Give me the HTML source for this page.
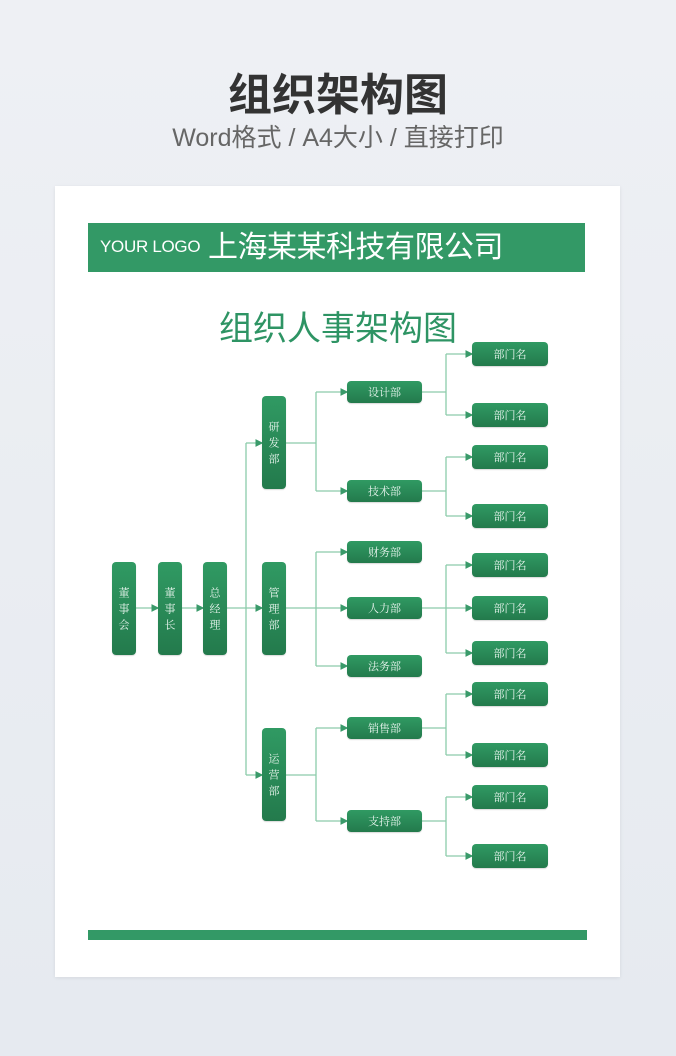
<!DOCTYPE html>
<html><head><meta charset="utf-8"><style>
*{margin:0;padding:0;box-sizing:border-box}
body{width:676px;height:1056px;background:linear-gradient(#eef0f4,#e6eaf0);position:relative;overflow:hidden;font-family:"Liberation Sans","Noto Sans CJK SC",sans-serif}
.a{position:absolute}
.t1{left:0;width:676px;top:70px;text-align:center;font-size:44px;font-weight:bold;color:#333;line-height:52px}
.t2{left:0;width:676px;top:122px;text-align:center;font-size:25px;color:#666;line-height:32px}
.paper{left:55px;top:186px;width:565px;height:791px;background:#fff;box-shadow:0 1px 4px rgba(0,0,0,.08)}
.bar{left:88px;top:223px;width:497px;height:49px;background:#339966}
.n{position:absolute;background:linear-gradient(#309a63,#237a4c);border-radius:4px;color:#e8f5ee;font-family:"Noto Serif CJK SC",serif;font-size:11px;display:flex;align-items:center;justify-content:center;box-shadow:0 1px 1px rgba(0,0,0,.15)}
.v{width:24px;height:93px;writing-mode:vertical-rl;letter-spacing:5px;line-height:24px;padding-top:4px}
.h3{width:75px;height:22px;left:347px}
.h4{width:76px;height:24px;left:472px}
</style></head><body>
<div class="a t1">组织架构图</div>
<div class="a t2">Word格式 / A4大小 / 直接打印</div>
<div class="a paper"></div>
<div class="a bar"></div>
<div class="a" style="left:100px;top:235px;font-size:17px;color:#fff;line-height:24px;letter-spacing:-0.3px">YOUR LOGO</div>
<div class="a" style="left:208px;top:229px;font-size:30px;color:#fff;line-height:38px;letter-spacing:-0.5px">上海某某科技有限公司</div>
<div class="a" style="left:0;width:676px;top:308px;text-align:center;font-size:34px;color:#2e9464;line-height:42px">组织人事架构图</div>
<div class="a" style="left:88px;top:930px;width:499px;height:10px;background:#339966"></div>
<svg class="a" style="left:0;top:0" width="676" height="1056">
<defs><marker id="m" markerWidth="6" markerHeight="6" refX="5" refY="3" orient="auto"><path d="M0,0L6,3L0,6z" fill="#3a9a6a"/></marker></defs>
<g stroke="#8ccbaa" stroke-width="1.3" fill="none">
<path d="M136 608H158" marker-end="url(#m)"/>
<path d="M182 608H203" marker-end="url(#m)"/>
<path d="M227 608H262" marker-end="url(#m)"/>
<path d="M246 443V775"/>
<path d="M246 443H262" marker-end="url(#m)"/>
<path d="M246 775H262" marker-end="url(#m)"/>
<path d="M286 443H316"/><path d="M316 392V491"/>
<path d="M316 392H347" marker-end="url(#m)"/><path d="M316 491H347" marker-end="url(#m)"/>
<path d="M286 608H347" marker-end="url(#m)"/><path d="M316 552V666"/>
<path d="M316 552H347" marker-end="url(#m)"/><path d="M316 666H347" marker-end="url(#m)"/>
<path d="M286 775H316"/><path d="M316 728V821"/>
<path d="M316 728H347" marker-end="url(#m)"/><path d="M316 821H347" marker-end="url(#m)"/>
<path d="M422 392H446"/><path d="M446 354V415"/>
<path d="M446 354H472" marker-end="url(#m)"/><path d="M446 415H472" marker-end="url(#m)"/>
<path d="M422 491H446"/><path d="M446 457V516"/>
<path d="M446 457H472" marker-end="url(#m)"/><path d="M446 516H472" marker-end="url(#m)"/>
<path d="M422 608H472" marker-end="url(#m)"/><path d="M446 565V653"/>
<path d="M446 565H472" marker-end="url(#m)"/><path d="M446 653H472" marker-end="url(#m)"/>
<path d="M422 728H446"/><path d="M446 694V755"/>
<path d="M446 694H472" marker-end="url(#m)"/><path d="M446 755H472" marker-end="url(#m)"/>
<path d="M422 821H446"/><path d="M446 797V856"/>
<path d="M446 797H472" marker-end="url(#m)"/><path d="M446 856H472" marker-end="url(#m)"/>
</g></svg>
<div class="n v" style="left:112px;top:562px">董事会</div>
<div class="n v" style="left:158px;top:562px">董事长</div>
<div class="n v" style="left:203px;top:562px">总经理</div>
<div class="n v" style="left:262px;top:396px">研发部</div>
<div class="n v" style="left:262px;top:562px">管理部</div>
<div class="n v" style="left:262px;top:728px">运营部</div>
<div class="n h3" style="top:381px">设计部</div>
<div class="n h3" style="top:480px">技术部</div>
<div class="n h3" style="top:541px">财务部</div>
<div class="n h3" style="top:597px">人力部</div>
<div class="n h3" style="top:655px">法务部</div>
<div class="n h3" style="top:717px">销售部</div>
<div class="n h3" style="top:810px">支持部</div>
<div class="n h4" style="top:342px">部门名</div>
<div class="n h4" style="top:403px">部门名</div>
<div class="n h4" style="top:445px">部门名</div>
<div class="n h4" style="top:504px">部门名</div>
<div class="n h4" style="top:553px">部门名</div>
<div class="n h4" style="top:596px">部门名</div>
<div class="n h4" style="top:641px">部门名</div>
<div class="n h4" style="top:682px">部门名</div>
<div class="n h4" style="top:743px">部门名</div>
<div class="n h4" style="top:785px">部门名</div>
<div class="n h4" style="top:844px">部门名</div>
</body></html>
